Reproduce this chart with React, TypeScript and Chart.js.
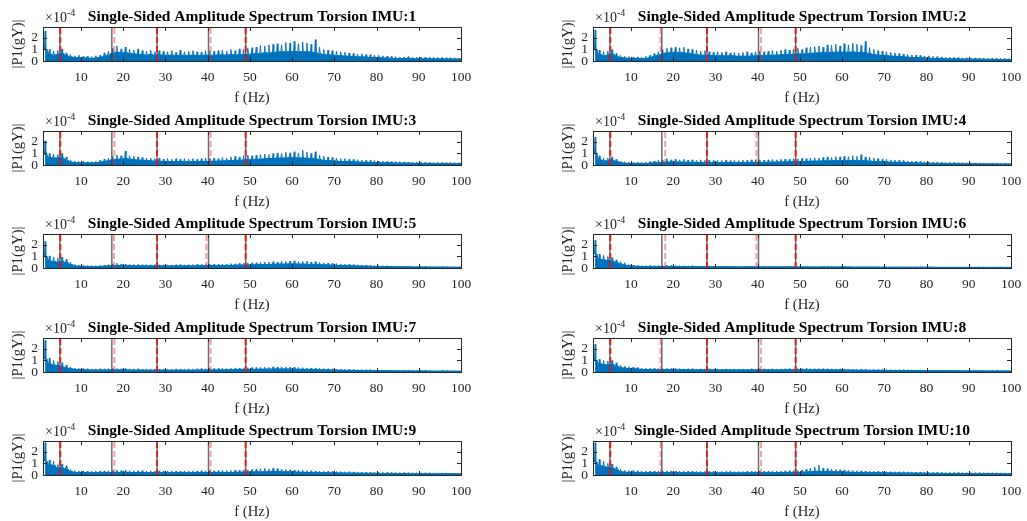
import React, { useEffect, useRef } from "react";
import { Chart, registerables } from "chart.js";
Chart.register(...registerables);

// Frequency bin centres (Hz)
const FREQ_HZ = Array.from({ length: 100 }, (_, i) => i + 1.5);
const X_TICKS = [10, 20, 30, 40, 50, 60, 70, 80, 90, 100];
const Y_TICKS = [0, 1, 2];
const Y_MAX = 2.95; // in units of 1e-4

const TITLES = [
  "Single-Sided Amplitude Spectrum Torsion IMU:1",
  "Single-Sided Amplitude Spectrum Torsion IMU:2",
  "Single-Sided Amplitude Spectrum Torsion IMU:3",
  "Single-Sided Amplitude Spectrum Torsion IMU:4",
  "Single-Sided Amplitude Spectrum Torsion IMU:5",
  "Single-Sided Amplitude Spectrum Torsion IMU:6",
  "Single-Sided Amplitude Spectrum Torsion IMU:7",
  "Single-Sided Amplitude Spectrum Torsion IMU:8",
  "Single-Sided Amplitude Spectrum Torsion IMU:9",
  "Single-Sided Amplitude Spectrum Torsion IMU:10",
];

// Marker frequencies (Hz)
const GRAY_MARKERS_HZ = [5, 17.3, 28, 40.2, 49];
const RED_STRONG_HZ = [5.1, 28, 49];
const RED_LIGHT_17_HZ = [17.9, 17.0, 17.9, 18.1, 17.8, 18.1, 17.9, 17.0, 17.9, 17.0];
const RED_LIGHT_40_HZ = [40.7, 40.8, 40.7, 39.7, 39.7, 39.7, 40.7, 40.8, 40.7, 40.8];

// Spectrum values, units of 1e-4: dense band level (BULK) and spike peaks (PEAK) per 1 Hz bin
const IMU1_BULK = [1.0,0.6,0.5,0.55,0.65,0.45,0.35,0.3,0.28,0.25,
0.25,0.22,0.25,0.3,0.4,0.5,0.65,0.75,0.7,0.72,
0.65,0.6,0.58,0.55,0.5,0.55,0.5,0.52,0.5,0.48,
0.5,0.45,0.5,0.48,0.45,0.5,0.47,0.45,0.5,0.48,
0.5,0.5,0.52,0.5,0.55,0.5,0.52,0.55,0.55,0.6,
0.62,0.65,0.7,0.68,0.72,0.75,0.8,0.78,0.8,0.82,
0.8,0.78,0.8,0.75,0.7,0.62,0.55,0.52,0.5,0.45,
0.45,0.42,0.4,0.38,0.35,0.35,0.33,0.3,0.3,0.28,
0.25,0.25,0.22,0.22,0.2,0.2,0.2,0.2,0.18,0.18,
0.18,0.18,0.17,0.18,0.17,0.16,0.17,0.16,0.16,0.15];
const IMU1_PEAK = [2.6,1.0,0.85,0.9,1.05,0.7,0.55,0.45,0.5,0.4,
0.42,0.38,0.45,0.5,0.7,0.85,1.1,1.3,1.05,1.2,
1.0,0.95,1.05,0.9,0.85,0.95,0.8,0.9,0.85,0.8,
0.9,0.75,0.95,0.8,0.85,0.9,0.8,0.75,0.9,0.85,
0.85,0.9,0.95,0.85,1.0,0.9,1.05,1.0,1.1,1.15,
1.2,1.35,1.3,1.4,1.45,1.5,1.4,1.6,1.55,1.7,
1.5,1.65,1.55,1.45,1.85,1.2,1.0,0.95,0.9,0.85,
0.8,0.75,0.7,0.65,0.6,0.62,0.55,0.55,0.5,0.5,
0.45,0.42,0.4,0.38,0.35,0.35,0.38,0.33,0.32,0.35,
0.32,0.3,0.33,0.3,0.3,0.28,0.3,0.28,0.27,0.25];

const IMU2_BULK = [1.0,0.55,0.45,0.5,0.6,0.4,0.3,0.25,0.22,0.2,
0.2,0.2,0.22,0.28,0.38,0.5,0.6,0.7,0.7,0.75,
0.72,0.7,0.65,0.6,0.55,0.5,0.5,0.48,0.45,0.45,
0.45,0.42,0.45,0.42,0.4,0.42,0.4,0.42,0.45,0.45,
0.45,0.48,0.5,0.5,0.52,0.55,0.55,0.58,0.6,0.6,
0.62,0.65,0.68,0.7,0.72,0.72,0.75,0.75,0.78,0.75,
0.75,0.78,0.75,0.72,0.7,0.62,0.55,0.5,0.48,0.45,
0.42,0.4,0.38,0.35,0.33,0.3,0.3,0.28,0.27,0.25,
0.22,0.2,0.2,0.18,0.18,0.17,0.17,0.16,0.16,0.15,
0.15,0.15,0.14,0.14,0.14,0.13,0.13,0.13,0.12,0.12];
const IMU2_PEAK = [2.7,0.95,0.8,0.85,1.0,0.65,0.5,0.4,0.38,0.35,
0.35,0.33,0.4,0.5,0.65,0.8,1.0,1.1,1.15,1.2,
1.15,1.2,1.05,1.0,0.95,0.85,0.9,0.8,0.75,0.8,
0.75,0.8,0.7,0.75,0.7,0.75,0.8,0.7,0.8,0.85,
0.8,0.85,0.9,0.85,0.95,1.0,0.95,1.05,1.1,1.0,
1.15,1.2,1.25,1.3,1.2,1.4,1.35,1.45,1.3,1.5,
1.4,1.55,1.45,1.35,1.7,1.15,1.0,0.9,0.85,0.8,
0.75,0.7,0.65,0.6,0.55,0.52,0.5,0.48,0.45,0.45,
0.4,0.38,0.35,0.33,0.32,0.3,0.3,0.28,0.3,0.27,
0.27,0.25,0.26,0.25,0.24,0.25,0.23,0.24,0.22,0.22];

const IMU3_BULK = [0.9,0.65,0.6,0.6,0.6,0.4,0.25,0.2,0.18,0.17,
0.17,0.17,0.18,0.22,0.3,0.35,0.45,0.5,0.5,0.55,
0.5,0.45,0.42,0.4,0.38,0.35,0.33,0.32,0.3,0.3,
0.3,0.28,0.3,0.28,0.28,0.3,0.28,0.3,0.3,0.3,
0.32,0.32,0.35,0.35,0.38,0.4,0.4,0.42,0.45,0.45,
0.48,0.5,0.52,0.55,0.55,0.58,0.6,0.6,0.62,0.62,
0.6,0.6,0.58,0.55,0.52,0.45,0.4,0.38,0.35,0.33,
0.3,0.3,0.28,0.27,0.25,0.24,0.23,0.22,0.2,0.2,
0.18,0.18,0.17,0.16,0.16,0.15,0.15,0.14,0.14,0.14,
0.13,0.13,0.13,0.12,0.12,0.12,0.12,0.11,0.11,0.11];
const IMU3_PEAK = [2.1,1.0,0.95,0.9,1.0,0.7,0.45,0.35,0.3,0.3,
0.28,0.3,0.32,0.4,0.5,0.6,0.75,0.85,0.8,1.2,
0.8,0.75,0.7,0.65,0.6,0.6,0.55,0.6,0.5,0.55,
0.5,0.55,0.5,0.55,0.5,0.55,0.5,0.55,0.6,0.55,
0.6,0.55,0.65,0.6,0.7,0.75,0.7,0.8,0.85,0.8,
0.85,0.9,0.95,0.9,1.0,1.05,1.0,1.1,1.05,1.15,
1.05,1.3,1.1,1.0,1.15,0.85,0.75,0.7,0.65,0.6,
0.55,0.55,0.5,0.48,0.45,0.42,0.4,0.4,0.38,0.35,
0.33,0.32,0.3,0.3,0.28,0.27,0.26,0.25,0.25,0.24,
0.24,0.23,0.22,0.23,0.22,0.21,0.22,0.2,0.21,0.2];

const IMU4_BULK = [1.0,0.45,0.35,0.35,0.4,0.3,0.2,0.15,0.13,0.12,
0.12,0.12,0.13,0.15,0.18,0.2,0.22,0.25,0.25,0.25,
0.25,0.24,0.23,0.22,0.22,0.22,0.2,0.2,0.2,0.2,
0.2,0.2,0.2,0.2,0.2,0.2,0.21,0.22,0.22,0.22,
0.22,0.23,0.24,0.25,0.25,0.26,0.27,0.28,0.28,0.3,
0.3,0.32,0.33,0.33,0.35,0.35,0.36,0.37,0.38,0.38,
0.38,0.38,0.37,0.36,0.35,0.33,0.3,0.28,0.27,0.25,
0.24,0.23,0.22,0.2,0.2,0.18,0.17,0.16,0.15,0.15,
0.14,0.13,0.13,0.12,0.12,0.11,0.11,0.1,0.1,0.1,
0.1,0.09,0.09,0.09,0.09,0.08,0.08,0.08,0.08,0.08];
const IMU4_PEAK = [2.4,0.8,0.6,0.6,0.7,0.5,0.35,0.28,0.25,0.22,
0.22,0.25,0.25,0.3,0.35,0.4,0.45,0.55,0.45,0.5,
0.45,0.5,0.42,0.45,0.4,0.45,0.4,0.42,0.38,0.4,
0.38,0.42,0.38,0.4,0.38,0.42,0.4,0.45,0.42,0.45,
0.42,0.45,0.48,0.45,0.5,0.52,0.5,0.55,0.52,0.58,
0.55,0.6,0.62,0.6,0.65,0.7,0.65,0.72,0.7,0.75,
0.72,0.8,0.75,0.9,0.7,0.65,0.6,0.55,0.5,0.48,
0.45,0.42,0.4,0.38,0.36,0.34,0.32,0.3,0.28,0.28,
0.26,0.25,0.24,0.23,0.22,0.22,0.2,0.2,0.2,0.19,
0.18,0.18,0.18,0.17,0.17,0.16,0.16,0.16,0.15,0.15];

const IMU5_BULK = [1.0,0.6,0.55,0.5,0.55,0.45,0.3,0.18,0.15,0.13,
0.12,0.12,0.12,0.13,0.15,0.17,0.2,0.22,0.2,0.2,
0.2,0.18,0.18,0.17,0.17,0.18,0.17,0.17,0.17,0.17,
0.17,0.17,0.17,0.18,0.18,0.18,0.18,0.19,0.2,0.2,
0.2,0.2,0.21,0.22,0.22,0.23,0.24,0.25,0.25,0.26,
0.27,0.28,0.3,0.3,0.32,0.32,0.33,0.33,0.34,0.34,
0.33,0.33,0.32,0.3,0.3,0.28,0.27,0.25,0.24,0.22,
0.21,0.2,0.19,0.18,0.17,0.16,0.15,0.14,0.13,0.12,
0.12,0.11,0.1,0.1,0.09,0.09,0.09,0.08,0.08,0.08,
0.08,0.07,0.07,0.07,0.07,0.07,0.06,0.06,0.06,0.06];
const IMU5_PEAK = [2.3,1.05,0.95,0.85,0.95,0.75,0.5,0.3,0.25,0.22,
0.2,0.22,0.2,0.22,0.25,0.3,0.35,0.42,0.35,0.33,
0.32,0.3,0.3,0.28,0.3,0.28,0.3,0.28,0.27,0.28,
0.27,0.28,0.3,0.28,0.3,0.3,0.32,0.3,0.33,0.32,
0.33,0.32,0.35,0.35,0.38,0.36,0.4,0.4,0.42,0.45,
0.45,0.48,0.5,0.52,0.55,0.5,0.58,0.55,0.6,0.62,
0.55,0.58,0.6,0.52,0.55,0.48,0.45,0.42,0.4,0.38,
0.35,0.34,0.32,0.3,0.28,0.27,0.26,0.24,0.22,0.21,
0.2,0.19,0.18,0.18,0.17,0.16,0.16,0.15,0.15,0.14,
0.14,0.13,0.13,0.13,0.12,0.12,0.12,0.11,0.11,0.11];

const IMU6_BULK = [1.2,0.75,0.7,0.65,0.6,0.45,0.35,0.25,0.18,0.15,
0.13,0.12,0.12,0.12,0.12,0.12,0.12,0.13,0.12,0.12,
0.12,0.11,0.11,0.11,0.1,0.1,0.1,0.1,0.1,0.1,
0.1,0.1,0.09,0.09,0.09,0.09,0.09,0.09,0.09,0.09,
0.09,0.09,0.09,0.09,0.09,0.09,0.09,0.09,0.09,0.09,
0.08,0.08,0.08,0.08,0.08,0.08,0.08,0.08,0.08,0.08,
0.08,0.07,0.07,0.07,0.07,0.07,0.07,0.07,0.06,0.06,
0.06,0.06,0.06,0.06,0.06,0.06,0.06,0.06,0.06,0.06,
0.06,0.05,0.05,0.05,0.05,0.05,0.05,0.05,0.05,0.05,
0.05,0.05,0.05,0.05,0.05,0.05,0.05,0.05,0.05,0.05];
const IMU6_PEAK = [2.4,1.2,1.1,1.0,0.9,0.7,0.55,0.45,0.3,0.25,
0.22,0.2,0.2,0.22,0.2,0.22,0.2,0.25,0.22,0.2,
0.2,0.2,0.18,0.2,0.18,0.17,0.18,0.17,0.17,0.16,
0.16,0.16,0.15,0.16,0.15,0.15,0.15,0.16,0.15,0.15,
0.15,0.14,0.15,0.14,0.15,0.14,0.14,0.15,0.14,0.14,
0.14,0.13,0.14,0.13,0.14,0.13,0.13,0.13,0.13,0.13,
0.12,0.12,0.12,0.12,0.12,0.11,0.11,0.11,0.11,0.1,
0.1,0.1,0.1,0.1,0.1,0.1,0.1,0.1,0.1,0.1,
0.09,0.09,0.09,0.09,0.09,0.09,0.09,0.09,0.09,0.09,
0.09,0.09,0.09,0.09,0.09,0.09,0.09,0.09,0.09,0.09];

const IMU7_BULK = [1.1,0.7,0.6,0.55,0.45,0.35,0.28,0.22,0.2,0.18,
0.17,0.16,0.16,0.16,0.16,0.17,0.17,0.18,0.17,0.17,
0.16,0.16,0.16,0.15,0.15,0.15,0.15,0.15,0.15,0.15,
0.15,0.15,0.15,0.15,0.16,0.15,0.16,0.16,0.16,0.17,
0.17,0.17,0.18,0.18,0.19,0.19,0.2,0.2,0.21,0.22,
0.22,0.23,0.24,0.24,0.25,0.25,0.25,0.25,0.24,0.24,
0.23,0.23,0.22,0.21,0.2,0.19,0.18,0.17,0.16,0.15,
0.15,0.14,0.14,0.13,0.13,0.12,0.12,0.11,0.11,0.1,
0.1,0.1,0.09,0.09,0.09,0.09,0.08,0.08,0.08,0.08,
0.08,0.07,0.07,0.07,0.07,0.07,0.07,0.06,0.06,0.06];
const IMU7_PEAK = [2.75,1.2,1.0,0.9,0.8,0.6,0.45,0.35,0.3,0.3,
0.28,0.27,0.27,0.28,0.27,0.3,0.32,0.3,0.28,0.3,
0.28,0.27,0.28,0.26,0.27,0.26,0.27,0.26,0.25,0.26,
0.26,0.27,0.26,0.27,0.28,0.27,0.28,0.3,0.28,0.3,
0.3,0.3,0.32,0.3,0.33,0.32,0.35,0.34,0.37,0.38,
0.38,0.4,0.42,0.4,0.45,0.42,0.44,0.42,0.4,0.42,
0.38,0.38,0.36,0.35,0.33,0.32,0.3,0.28,0.27,0.26,
0.25,0.24,0.23,0.22,0.22,0.21,0.2,0.2,0.19,0.18,
0.18,0.17,0.17,0.16,0.16,0.15,0.15,0.15,0.14,0.14,
0.14,0.13,0.13,0.13,0.13,0.12,0.12,0.12,0.12,0.12];

const IMU8_BULK = [1.0,0.7,0.65,0.6,0.65,0.5,0.38,0.33,0.3,0.28,
0.25,0.22,0.2,0.2,0.2,0.2,0.2,0.2,0.2,0.19,
0.19,0.19,0.18,0.18,0.18,0.18,0.18,0.18,0.17,0.17,
0.17,0.17,0.17,0.17,0.17,0.17,0.17,0.17,0.17,0.17,
0.17,0.17,0.17,0.17,0.17,0.18,0.18,0.18,0.18,0.18,
0.18,0.18,0.18,0.18,0.18,0.17,0.17,0.17,0.17,0.16,
0.16,0.16,0.15,0.15,0.15,0.14,0.14,0.14,0.13,0.13,
0.13,0.12,0.12,0.12,0.12,0.11,0.11,0.11,0.11,0.1,
0.1,0.1,0.1,0.1,0.1,0.09,0.09,0.09,0.09,0.09,
0.09,0.09,0.09,0.08,0.08,0.08,0.08,0.08,0.08,0.08];
const IMU8_PEAK = [2.4,1.1,1.0,0.95,1.0,0.8,0.6,0.5,0.45,0.42,
0.38,0.35,0.32,0.3,0.32,0.3,0.3,0.32,0.3,0.3,
0.3,0.28,0.28,0.29,0.27,0.28,0.27,0.28,0.26,0.27,
0.26,0.27,0.26,0.27,0.26,0.27,0.26,0.28,0.26,0.27,
0.27,0.26,0.28,0.27,0.28,0.28,0.29,0.28,0.3,0.29,
0.3,0.29,0.3,0.3,0.29,0.28,0.28,0.27,0.27,0.26,
0.26,0.25,0.25,0.24,0.24,0.23,0.23,0.22,0.22,0.21,
0.21,0.2,0.2,0.2,0.19,0.19,0.18,0.18,0.18,0.17,
0.17,0.17,0.16,0.16,0.16,0.16,0.15,0.15,0.15,0.15,
0.15,0.14,0.14,0.14,0.14,0.14,0.13,0.13,0.13,0.13];

const IMU9_BULK = [1.2,0.9,0.8,0.6,0.6,0.5,0.3,0.22,0.2,0.2,
0.2,0.19,0.19,0.2,0.2,0.21,0.22,0.23,0.22,0.22,
0.22,0.21,0.21,0.21,0.2,0.2,0.2,0.2,0.2,0.2,
0.2,0.2,0.2,0.2,0.2,0.2,0.2,0.21,0.21,0.21,
0.21,0.21,0.22,0.22,0.22,0.23,0.23,0.24,0.24,0.25,
0.26,0.27,0.28,0.28,0.29,0.28,0.28,0.27,0.26,0.25,
0.24,0.23,0.22,0.21,0.2,0.2,0.19,0.18,0.18,0.17,
0.17,0.16,0.16,0.15,0.15,0.15,0.14,0.14,0.14,0.13,
0.13,0.13,0.12,0.12,0.12,0.12,0.11,0.11,0.11,0.11,
0.11,0.1,0.1,0.1,0.1,0.1,0.1,0.1,0.09,0.09];
const IMU9_PEAK = [2.8,1.3,1.2,0.9,0.95,0.8,0.5,0.38,0.35,0.35,
0.33,0.32,0.33,0.35,0.35,0.37,0.4,0.42,0.38,0.4,
0.38,0.37,0.36,0.38,0.35,0.36,0.35,0.36,0.34,0.35,
0.34,0.35,0.34,0.36,0.35,0.36,0.35,0.37,0.36,0.38,
0.37,0.38,0.4,0.38,0.4,0.42,0.4,0.44,0.43,0.47,
0.5,0.55,0.58,0.52,0.6,0.55,0.52,0.48,0.45,0.43,
0.42,0.4,0.38,0.37,0.35,0.34,0.33,0.32,0.31,0.3,
0.3,0.29,0.28,0.27,0.27,0.26,0.25,0.25,0.24,0.24,
0.23,0.23,0.22,0.22,0.21,0.21,0.2,0.2,0.2,0.2,
0.19,0.19,0.19,0.18,0.18,0.18,0.18,0.17,0.17,0.17];

const IMU10_BULK = [1.1,0.8,0.75,0.65,0.6,0.45,0.3,0.24,0.22,0.22,
0.21,0.2,0.2,0.2,0.2,0.2,0.21,0.21,0.2,0.2,
0.2,0.19,0.19,0.19,0.18,0.18,0.18,0.18,0.18,0.18,
0.18,0.18,0.18,0.18,0.18,0.18,0.18,0.18,0.19,0.19,
0.19,0.19,0.2,0.2,0.2,0.21,0.21,0.22,0.22,0.23,
0.25,0.27,0.3,0.32,0.3,0.29,0.28,0.27,0.26,0.25,
0.24,0.23,0.22,0.22,0.21,0.2,0.2,0.19,0.19,0.18,
0.18,0.17,0.17,0.16,0.16,0.16,0.15,0.15,0.15,0.14,
0.14,0.14,0.13,0.13,0.13,0.13,0.12,0.12,0.12,0.12,
0.12,0.11,0.11,0.11,0.11,0.11,0.1,0.1,0.1,0.1];
const IMU10_PEAK = [2.8,1.35,1.2,1.0,0.95,0.7,0.5,0.4,0.38,0.38,
0.36,0.35,0.34,0.34,0.35,0.35,0.37,0.36,0.35,0.34,
0.34,0.33,0.33,0.32,0.32,0.31,0.32,0.31,0.31,0.3,
0.31,0.3,0.31,0.3,0.31,0.31,0.32,0.31,0.32,0.33,
0.33,0.33,0.34,0.34,0.35,0.36,0.37,0.38,0.38,0.42,
0.5,0.6,0.7,0.85,0.6,0.55,0.5,0.48,0.45,0.42,
0.4,0.38,0.37,0.36,0.35,0.34,0.33,0.32,0.31,0.3,
0.3,0.29,0.28,0.28,0.27,0.27,0.26,0.26,0.25,0.25,
0.24,0.24,0.23,0.23,0.22,0.22,0.22,0.21,0.21,0.21,
0.2,0.2,0.2,0.2,0.19,0.19,0.19,0.18,0.18,0.18];

const BULK = [IMU1_BULK, IMU2_BULK, IMU3_BULK, IMU4_BULK, IMU5_BULK, IMU6_BULK, IMU7_BULK, IMU8_BULK, IMU9_BULK, IMU10_BULK];
const PEAK = [IMU1_PEAK, IMU2_PEAK, IMU3_PEAK, IMU4_PEAK, IMU5_PEAK, IMU6_PEAK, IMU7_PEAK, IMU8_PEAK, IMU9_PEAK, IMU10_PEAK];

// ---------- layout / style ----------
const SERIF = '"Liberation Serif", "Times New Roman", serif';
const TEXT = "#262626";
const BLUE = "#0072BD";
const CANVAS_W = 490;
const CANVAS_H = 107;
const RIGHT_PAD = 29;
const COL_LEFT = [0, 550];
const ROW_TOP = [0, 104, 207, 311, 414];

function framePlugin(title: string) {
  return {
    id: "frame",
    afterDraw(chart: any) {
      const { ctx, chartArea: a, scales } = chart;
      const xs = scales.x, ys = scales.y;
      ctx.save();
      ctx.strokeStyle = TEXT;
      ctx.lineWidth = 1;
      ctx.beginPath();
      for (const v of X_TICKS) {
        const px = Math.round(xs.getPixelForValue(v)) + 0.5;
        ctx.moveTo(px, a.bottom); ctx.lineTo(px, a.bottom - 4);
        ctx.moveTo(px, a.top); ctx.lineTo(px, a.top + 4);
      }
      for (const v of Y_TICKS) {
        const py = Math.round(ys.getPixelForValue(v)) + 0.5;
        ctx.moveTo(a.left, py); ctx.lineTo(a.left + 4, py);
        ctx.moveTo(a.right, py); ctx.lineTo(a.right - 4, py);
      }
      ctx.stroke();
      ctx.strokeRect(Math.round(a.left) + 0.5, Math.round(a.top) + 0.5, Math.round(a.right - a.left), Math.round(a.bottom - a.top));
      // exponent
      ctx.fillStyle = TEXT;
      ctx.textBaseline = "alphabetic";
      ctx.textAlign = "left";
      ctx.font = `14px ${SERIF}`;
      const base = "\u00d710";
      ctx.fillText(base, a.left + 2, a.top - 5);
      const w = ctx.measureText(base).width;
      ctx.font = `10px ${SERIF}`;
      ctx.fillText("-4", a.left + 2 + w, a.top - 11);
      // title
      ctx.font = `bold 15.5px ${SERIF}`;
      ctx.textAlign = "center";
      ctx.fillStyle = "#000";
      ctx.fillText(title, (a.left + a.right) / 2, a.top - 6.5);
      ctx.restore();
    },
  };
}

function vline(f: number, color: string, width: number, dash: number[], order: number) {
  return {
    type: "line",
    data: [{ x: f, y: 0 }, { x: f, y: Y_MAX }],
    borderColor: color,
    borderWidth: width,
    borderDash: dash,
    pointRadius: 0,
    fill: false,
    order,
  };
}

function buildConfig(i: number) {
  const bulk = BULK[i];
  const peak = PEAK[i];
  const band = FREQ_HZ.map((f, k) => ({ x: f, y: bulk[k] }));
  const spikes: { x: number; y: number }[] = [];
  FREQ_HZ.forEach((f, k) => {
    spikes.push({ x: f - 0.15, y: bulk[k] });
    spikes.push({ x: f, y: peak[k] });
    spikes.push({ x: f + 0.15, y: bulk[k] });
  });
  const datasets: any[] = [
    {
      type: "line", data: band, stepped: "middle", fill: "origin",
      backgroundColor: BLUE, borderColor: BLUE, borderWidth: 1, pointRadius: 0, order: 5,
    },
    {
      type: "line", data: spikes, fill: false,
      borderColor: BLUE, borderWidth: 1, pointRadius: 0, order: 4,
    },
  ];
  GRAY_MARKERS_HZ.forEach((f) => datasets.push(vline(f, "rgba(60,60,60,0.75)", 1.5, [], 3)));
  datasets.push(vline(RED_LIGHT_17_HZ[i], "rgba(240,40,40,0.45)", 2, [6, 3], 2));
  datasets.push(vline(RED_LIGHT_40_HZ[i], "rgba(240,40,40,0.45)", 2, [6, 3], 2));
  RED_STRONG_HZ.forEach((f) => datasets.push(vline(f, "rgba(235,20,20,0.9)", 2, [6, 3], 1)));

  const tickFont = { family: SERIF, size: 13.5 };
  const labelFont = { family: SERIF, size: 14.7 };
  return {
    type: "line",
    data: { datasets },
    options: {
      animation: false,
      responsive: false,
      devicePixelRatio: 1,
      layout: { padding: { top: 27, right: RIGHT_PAD, left: 0, bottom: 0 } },
      plugins: { legend: { display: false }, tooltip: { enabled: false }, title: { display: false } },
      scales: {
        x: {
          type: "linear", min: 1, max: 100,
          afterBuildTicks: (s: any) => { s.ticks = X_TICKS.map((v) => ({ value: v })); },
          afterFit: (s: any) => { s.height = 46; },
          grid: { display: false, drawTicks: false },
          border: { display: false },
          ticks: { font: tickFont, color: TEXT, padding: 8, maxRotation: 0, autoSkip: false, callback: (v: any) => String(v) },
          title: { display: true, text: "f (Hz)", font: labelFont, color: TEXT, padding: { top: 0, bottom: 0 } },
        },
        y: {
          type: "linear", min: 0, max: Y_MAX,
          afterBuildTicks: (s: any) => { s.ticks = Y_TICKS.map((v) => ({ value: v })); },
          afterFit: (s: any) => { s.width = 43; },
          grid: { display: false, drawTicks: false },
          border: { display: false },
          ticks: { font: tickFont, color: TEXT, padding: 5, autoSkip: false, callback: (v: any) => String(v) },
          title: { display: true, text: "|P1(gY)|", font: labelFont, color: TEXT, padding: { top: 9, bottom: 0 } },
        },
      },
    },
    plugins: [framePlugin(TITLES[i])],
  };
}

function Panel({ index }: { index: number }) {
  const ref = useRef<HTMLCanvasElement>(null);
  useEffect(() => {
    const chart = new Chart(ref.current as HTMLCanvasElement, buildConfig(index) as any);
    return () => chart.destroy();
  }, [index]);
  const left = COL_LEFT[index % 2];
  const top = ROW_TOP[Math.floor(index / 2)];
  return (
    <canvas
      ref={ref}
      width={CANVAS_W}
      height={CANVAS_H}
      style={{ position: "absolute", left, top, width: CANVAS_W, height: CANVAS_H }}
    />
  );
}

export default function App() {
  return (
    <div style={{ position: "absolute", left: 0, top: 0, width: 1027, height: 521, overflow: "hidden", background: "#fff" }}>
      {TITLES.map((_, i) => (
        <Panel key={i} index={i} />
      ))}
    </div>
  );
}
